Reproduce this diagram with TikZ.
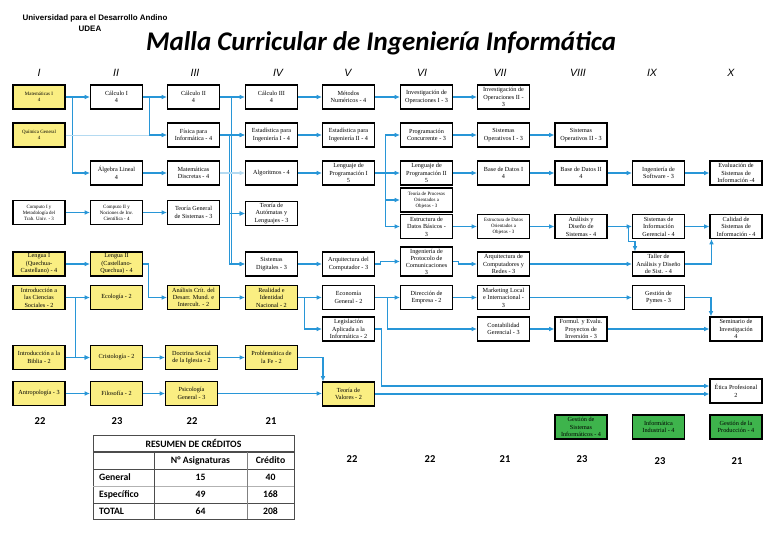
\documentclass[tikz,border=0pt]{standalone}
\usepackage{fontspec}
\setmainfont{Liberation Serif}
\newfontfamily\titlefont{Carlito}
\newfontfamily\headfont{Liberation Sans}
\usetikzlibrary{arrows.meta, positioning, calc}
\definecolor{genyellow}{RGB}{250,238,130}
\definecolor{optgreen}{RGB}{62,180,76}
\definecolor{linkblue}{RGB}{40,150,215}

\begin{document}
\begin{tikzpicture}[x=0.03cm, y=-0.03cm,
  curso/.style={rectangle, draw, line width=0.9pt, fill=white, minimum width=1.56cm, minimum height=0.72cm, inner sep=0.5pt, align=center, font=\fontsize{5.3}{6.3}\selectfont},
  general/.style={curso, fill=genyellow},
  electivo/.style={curso, fill=optgreen},
  chico/.style={font=\fontsize{4.2}{5.2}\selectfont},
  link/.style={draw=linkblue, line width=0.9pt, -{Latex[length=4.5pt,width=4pt]}},
  tenue/.style={link, draw=linkblue!35},
  semestre/.style={font=\headfont\itshape\fontsize{9}{10}\selectfont},
  cred/.style={font=\titlefont\bfseries\fontsize{9}{10}\selectfont},
  celda/.style={font=\titlefont\bfseries\fontsize{8.3}{9}\selectfont}
]
  \useasboundingbox (0,0) rectangle (768,543);

  % Encabezado
  \node[font=\headfont\bfseries\fontsize{6.8}{7.5}\selectfont] (univ) at (95,18) {Universidad para el Desarrollo Andino};
  \node[font=\headfont\bfseries\fontsize{6.8}{7.5}\selectfont] (udea) at (90,29) {UDEA};
  \node[font=\titlefont\bfseries\itshape\fontsize{23}{25}\selectfont] (titulo) at (381,43) {Malla Curricular de Ingeniería Informática};

  % Semestres
  \foreach \s/\x in {I/39,II/116,III/195,IV/278,V/348,VI/422,VII/500,VIII/578,IX/652,X/731}
    \node[semestre] (sem\s) at (\x,73) {\s};

  % Asignaturas - fila 1
  \node[general, chico] (matI) at (39,97) {Matemáticas I\\4};
  \node[curso] (calI) at (116.5,97) {Cálculo I\\4};
  \node[curso] (calII) at (193.5,97) {Cálculo II\\4};
  \node[curso] (calIII) at (271.5,97) {Cálculo III\\4};
  \node[curso] (metnum) at (348.5,97) {Métodos\\Numéricos - 4};
  \node[curso] (invopI) at (426.5,97) {Investigación de\\Operaciones I - 3};
  \node[curso] (invopII) at (503.5,97) {Investigación de\\Operaciones II -\\3};

  % fila 2
  \node[general, chico] (quim) at (39,135) {Química General\\4};
  \node[curso] (fis) at (193.5,135) {Física para\\Informática - 4};
  \node[curso] (estI) at (271.5,135) {Estadística para\\Ingeniería I - 4};
  \node[curso] (estII) at (348.5,135) {Estadística para\\Ingeniería II - 4};
  \node[curso] (progcon) at (426.5,135) {Programación\\Concurrente - 3};
  \node[curso] (sopI) at (503.5,135) {Sistemas\\Operativos I - 3};
  \node[curso] (sopII) at (581,135) {Sistemas\\Operativos II - 3};

  % fila 3
  \node[curso] (alg) at (116.5,173) {Álgebra Lineal\\4};
  \node[curso] (matdis) at (193.5,173) {Matemáticas\\Discretas - 4};
  \node[curso] (algor) at (271.5,173) {Algoritmos - 4};
  \node[curso] (lpI) at (348.5,173) {Lenguaje de\\Programación I\\5};
  \node[curso] (lpII) at (426.5,173) {Lenguaje de\\Programación II\\5};
  \node[curso] (bdI) at (503.5,173) {Base de Datos I\\4};
  \node[curso] (bdII) at (581,173) {Base de Datos II\\4};
  \node[curso] (ingsw) at (658.5,173) {Ingeniería de\\Software - 3};
  \node[curso] (evalsi) at (736,173) {Evaluación de\\Sistemas de\\Información -4};
  \node[curso, chico] (tpoo) at (426.5,200) {Teoría de Procesos\\Orientados a\\Objetos - 3};

  % fila 4
  \node[curso, chico] (compI) at (39,212.5) {Computo I y\\Metodología del\\Trab. Univ. - 3};
  \node[curso, chico] (compII) at (116.5,212.5) {Computo II y\\Nociones de Inv.\\Científica - 4};
  \node[curso] (tgs) at (193.5,212.5) {Teoría General\\de Sistemas - 3};
  \node[curso] (auto) at (271.5,213.5) {Teoría de\\Autómatas y\\Lenguajes - 3};
  \node[curso] (edb) at (426.5,226.5) {Estructura de\\Datos Básicos -\\3};
  \node[curso, chico] (edoo) at (503.5,226.5) {Estructura de Datos\\Orientados a\\Objetos - 3};
  \node[curso] (ads) at (581,226.5) {Análisis y\\Diseño de\\Sistemas - 4};
  \node[curso] (sig) at (658.5,226.5) {Sistemas de\\Información\\Gerencial - 4};
  \node[curso] (calsi) at (736,226.5) {Calidad de\\Sistemas de\\Información - 4};

  % fila 5
  \node[general] (lenI) at (39,264) {Lengua I\\(Quechua-\\Castellano) - 4};
  \node[general] (lenII) at (116.5,264) {Lengua II\\(Castellano-\\Quechua) - 4};
  \node[curso] (sdig) at (271.5,264) {Sistemas\\Digitales - 3};
  \node[curso] (arqc) at (348.5,264) {Arquitectura del\\Computador - 3};
  \node[curso, minimum height=0.87cm, inner sep=0pt, font=\fontsize{5.3}{6}\selectfont] (ipc) at (426.5,261.5) {Ingeniería de\\Protocolo de\\Comunicaciones\\3};
  \node[curso] (acr) at (503.5,264) {Arquitectura de\\Computadores y\\Redes - 3};
  \node[curso] (taller) at (658.5,264) {Taller de\\Análisis y Diseño\\de Sist. - 4};

  % fila 6
  \node[general] (ics) at (39,297.5) {Introducción a\\las Ciencias\\Sociales - 2};
  \node[general] (eco) at (116.5,297.5) {Ecología - 2};
  \node[general] (acdm) at (193.5,297.5) {Análisis Crít. del\\Desarr. Mund. e\\Intercult. - 2};
  \node[general] (rin) at (271.5,297.5) {Realidad e\\Identidad\\Nacional - 2};
  \node[curso] (ecog) at (348.5,297.5) {Economía\\General - 2};
  \node[curso] (dire) at (426.5,297.5) {Dirección de\\Empresa - 2};
  \node[curso] (mkt) at (503.5,297.5) {Marketing Local\\e Internacional -\\3};
  \node[curso] (pymes) at (658.5,297.5) {Gestión de\\Pymes - 3};
  \node[curso] (leg) at (348.5,329) {Legislación\\Aplicada a la\\Informática - 2};
  \node[curso] (cont) at (503.5,329) {Contabilidad\\Gerencial - 3};
  \node[curso] (fepi) at (581,329) {Formul. y Evalu.\\Proyectos de\\Inversión - 3};
  \node[curso] (semin) at (736,329) {Seminario de\\Investigación\\4};

  % fila 7 y 8
  \node[general] (ib) at (39,357.5) {Introducción a la\\Biblia - 2};
  \node[general] (cris) at (116.5,357.5) {Cristología - 2};
  \node[general] (dsi) at (191.5,357.5) {Doctrina Social\\de la Iglesia - 2};
  \node[general] (pfe) at (271.5,357.5) {Problemática de\\la Fe - 2};
  \node[general] (antro) at (39,393.5) {Antropología - 3};
  \node[general] (filo) at (116.5,393.5) {Filosofía - 2};
  \node[general] (psico) at (191.5,393.5) {Psicología\\General - 3};
  \node[general] (tval) at (348.5,394) {Teoría de\\Valores - 2};
  \node[curso] (etica) at (736,391) {Ética Profesional\\2};

  % Electivos
  \node[electivo] (gsi) at (581,427) {Gestión de\\Sistemas\\Informáticos - 4};
  \node[electivo] (indus) at (658.5,427) {Informática\\Industrial - 4};
  \node[electivo] (gprod) at (736,427) {Gestión de la\\Producción - 4};

  % Prerrequisitos
  \draw[link] (matI.east) -- (calI.west);
  \draw[link] (matI.east) -- ++(7,0) |- (alg.west);
  \draw[tenue, line width=0.6pt] (quim.east) -- (fis.west);
  \draw[link] (calI.east) -- (calII.west);
  \draw[link] (calI.east) -- ++(6,0) |- (fis.west);
  \draw[link] (calII.east) -- (calIII.west);
  \foreach \t in {estI, auto, sdig} {
    \draw[link] (calII.east) -- ++(11,0) |- (\t.west);
    \draw[link] (fis.east) -- ++(9,0) |- (\t.west);
  }
  \draw[tenue] (matdis.east) -- (algor.west);
  \draw[link] (calIII.east) -- (metnum.west);
  \draw[link] (metnum.east) -- (invopI.west);
  \draw[link] (invopI.east) -- (invopII.west);
  \draw[link] (estI.east) -- (estII.west);
  \draw[link] (algor.east) -- (lpI.west);
  \foreach \t in {progcon, lpII, tpoo, edb}
    \draw[link] (lpI.east) -- ++(10,0) |- (\t.west);
  \draw[link] (progcon.east) -- (sopI.west);
  \draw[link] (sopI.east) -- (sopII.west);
  \draw[link] (alg.east) -- (matdis.west);
  \draw[link] (lpII.east) -- (bdI.west);
  \draw[link] (bdI.east) -- (bdII.west);
  \draw[link] (bdII.east) -- (ingsw.west);
  \draw[link] (ingsw.east) -- (evalsi.west);
  \draw[link] (compI.east) -- (compII.west);
  \draw[link] (compII.east) -- (tgs.west);
  \draw[link] (edb.east) -- (edoo.west);
  \draw[link] (edoo.east) -- (ads.west);
  \draw[link] (ads.east) -- (sig.west);
  \draw[link] (sig.east) -- (calsi.west);
  \draw[link] (ads.east) -- ++(21,0) -- ++(0,15) -| ($(taller.north west)+(3,0)$);
  \draw[link] (acr.east) -- (taller.west);
  \draw[link] (taller.east) -| ($(calsi.south west)+(2,0)$);
  \draw[link] (lenI.east) -- (lenII.west);
  \draw[link] (lenII.east) -- ++(5,0) |- (acdm.west);
  \draw[link] (sdig.east) -- (arqc.west);
  \draw[link] (arqc.east) -- ++(5,0) |- (ipc.west);
  \draw[link] (ipc.east) -- ++(5,0) |- (acr.west);
  \draw[link] (ics.east) -- (eco.west);
  \draw[link] (ics.east) -- ++(10,0) |- (cris.west);
  \draw[link] (ib.east) -- (cris.west);
  \draw[link] (acdm.east) -- (rin.west);
  \draw[link] (rin.east) -- (ecog.west);
  \draw[link] (rin.east) -- ++(6,0) |- (leg.west);
  \draw[link] (ecog.east) -- (dire.west);
  \draw[link] (ecog.east) -- ++(12,0) |- (cont.west);
  \draw[link] (dire.east) -- (mkt.west);
  \draw[link] (mkt.east) -- (pymes.west);
  \draw[link] (pymes.east) -| ($(semin.north west)+(1.5,0)$);
  \draw[link] (cont.east) -- (fepi.west);
  \draw[link] (fepi.east) -- (semin.west);
  \draw[link] (leg.east) -- ++(6,0) |- ($(etica.west)+(0,-5)$);
  \draw[link] (tval.east) -- (tval.east -| etica.west);
  \draw[link] (cris.east) -- (dsi.west);
  \draw[link] (dsi.east) -- (pfe.west);
  \draw[link] (pfe.east) -| ($(tval.north west)+(1,0)$);
  \draw[link] (antro.east) -- (filo.west);
  \draw[link] (filo.east) -- (psico.west);
  \draw[link] (psico.east) -- (psico.east -| tval.west);

  % Creditos por semestre
  \foreach \c/\x/\y [count=\k] in {22/40/421,23/117/421,22/192/421,21/271/421,22/352/459,22/430/459,21/505/459,23/582/459,23/660/461,21/737/461}
    \node[cred] (cr\k) at (\x,\y) {\c};

  % Resumen de creditos
  \draw[black!70, line width=0.7pt] (93,435) rectangle (294,519);
  \draw[black!70, line width=1pt] (93,452) -- (294,452);
  \draw[black!70, line width=0.8pt] (93,469) -- (294,469);
  \draw[black!30, line width=0.6pt] (93,486) -- (294,486);
  \draw[black!70, line width=0.8pt] (93,503) -- (294,503);
  \draw[black!70, line width=0.7pt] (154,452) -- (154,519);
  \draw[black!50, line width=0.6pt] (247,452) -- (247,519);
  \node[celda] (tres) at (193.5,443.5) {RESUMEN DE CRÉDITOS};
  \node[celda] (tnum) at (200.5,460.5) {N° Asignaturas};
  \node[celda] (tcre) at (270.5,460.5) {Crédito};
  \node[celda, anchor=west] (tgen) at (95,477.5) {General};
  \node[celda, anchor=west] (tesp) at (95,494.5) {Específico};
  \node[celda, anchor=west] (ttot) at (95,511) {TOTAL};
  \node[celda] (n1) at (200.5,477.5) {15};
  \node[celda] (c1) at (270.5,477.5) {40};
  \node[celda] (n2) at (200.5,494.5) {49};
  \node[celda] (c2) at (270.5,494.5) {168};
  \node[celda] (n3) at (200.5,511) {64};
  \node[celda] (c3) at (270.5,511) {208};
\end{tikzpicture}
\end{document}
